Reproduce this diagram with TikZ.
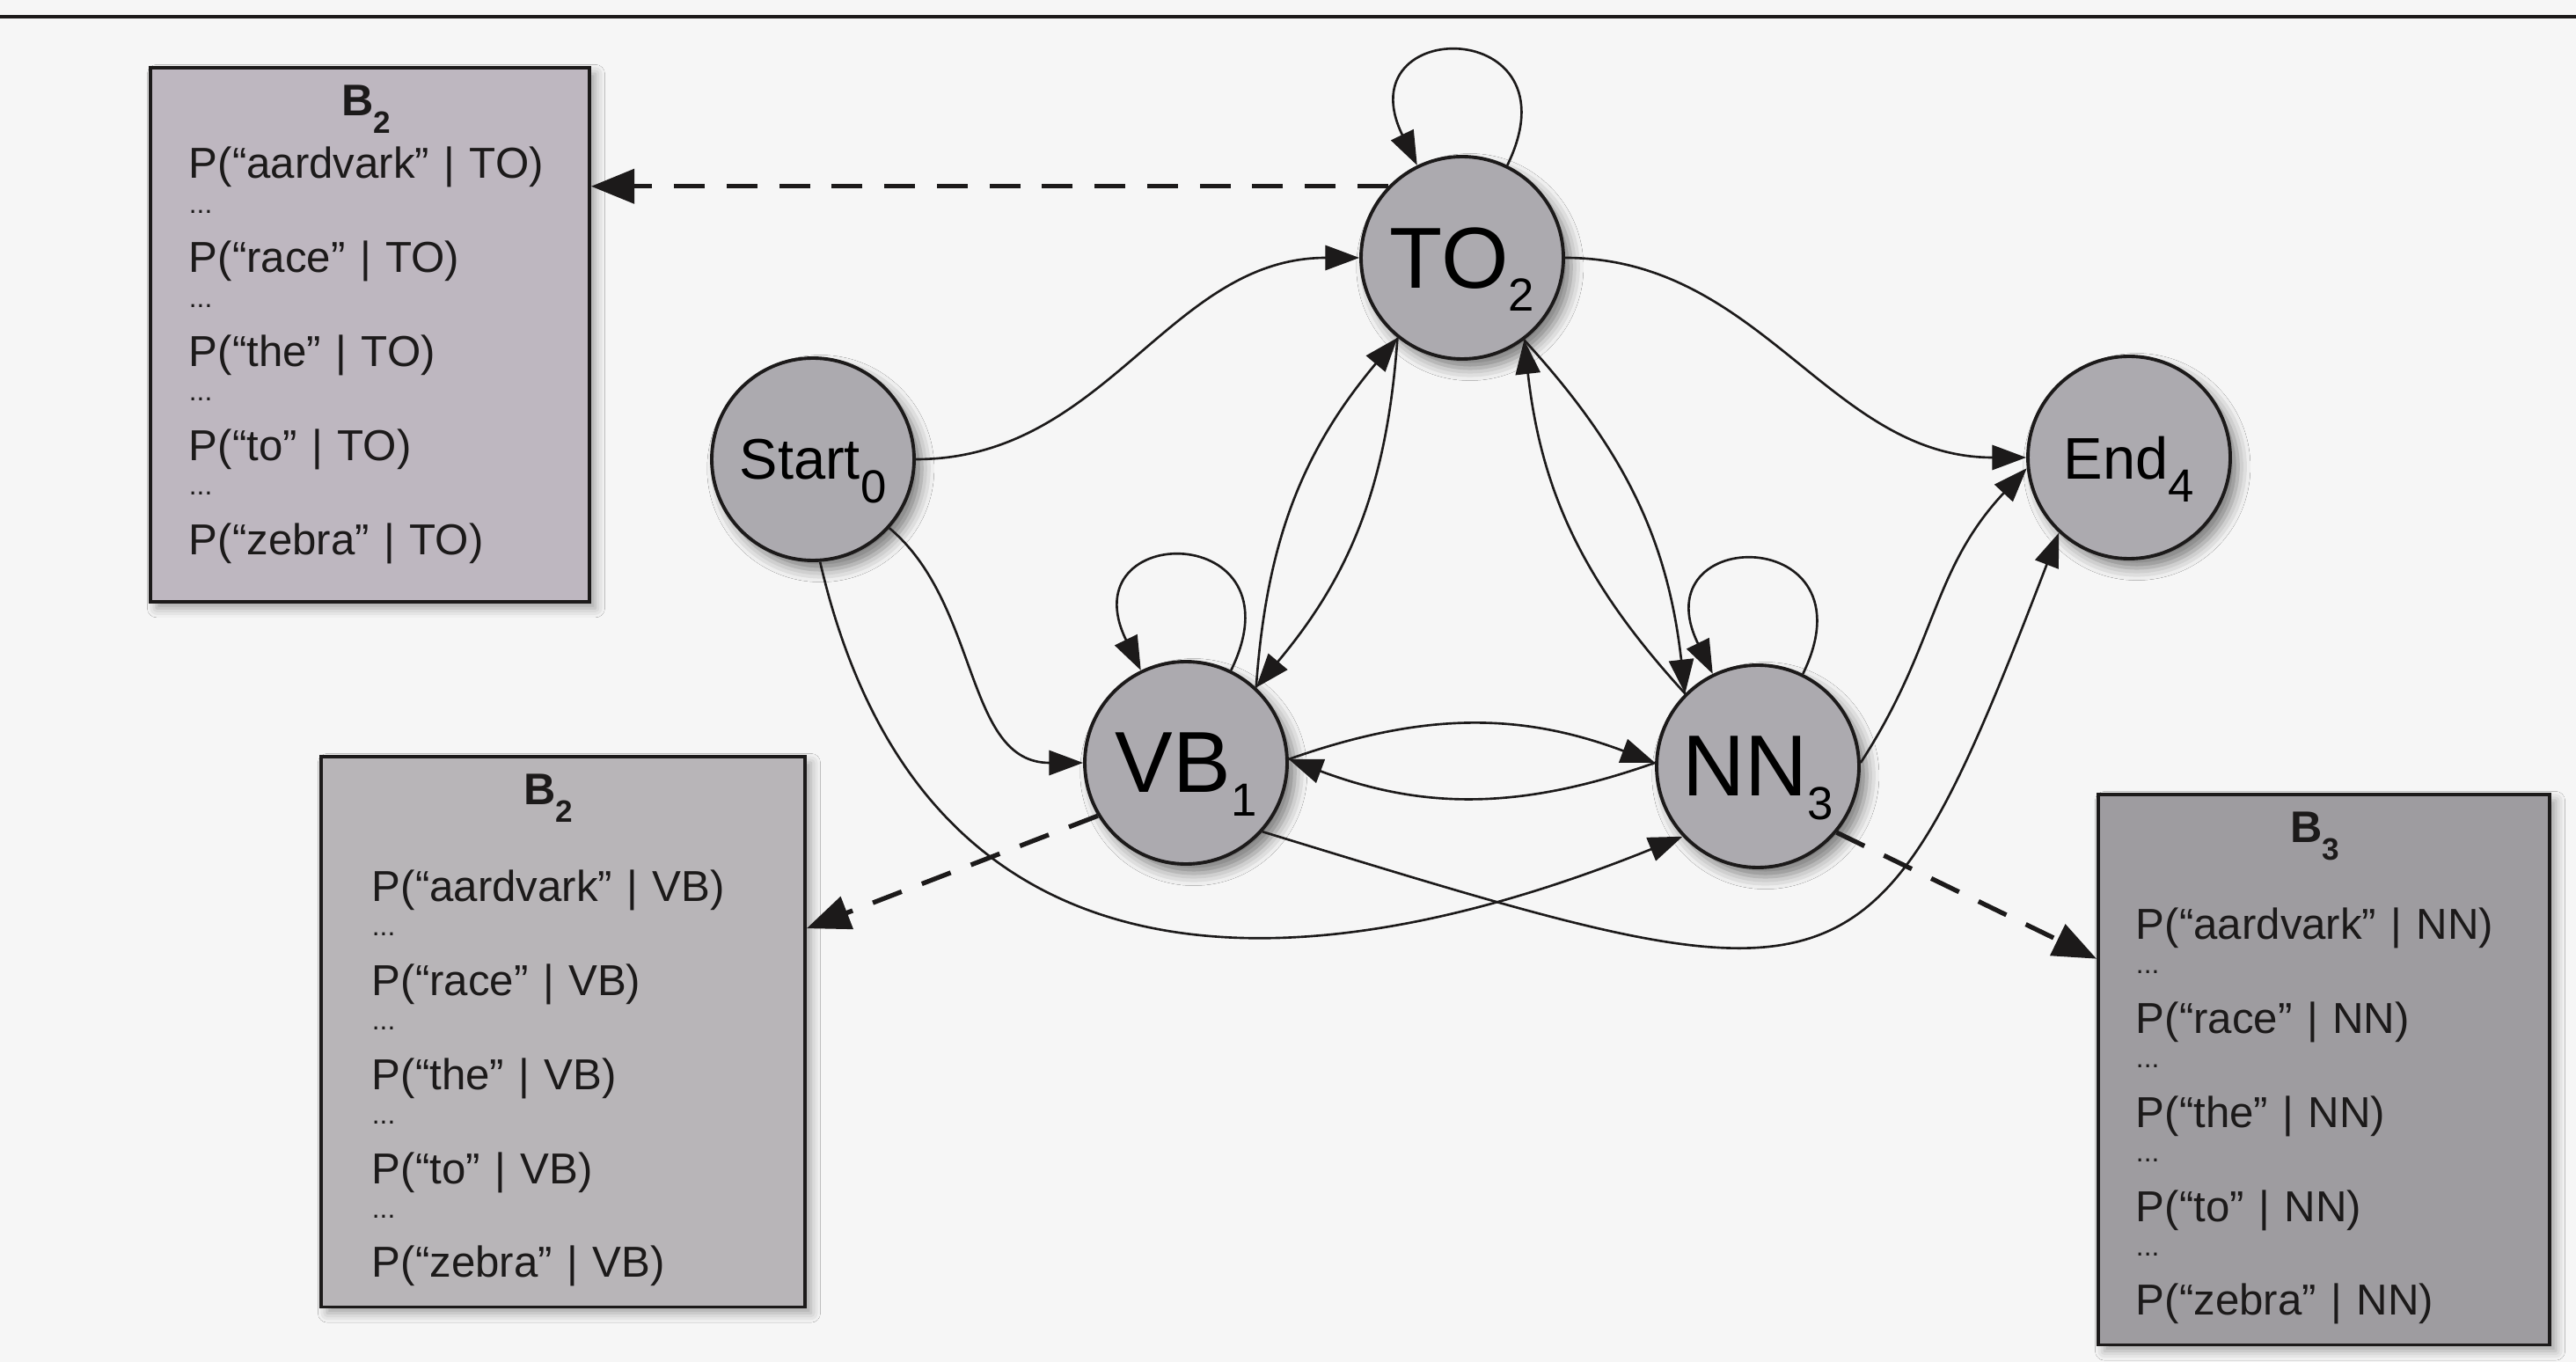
\documentclass[tikz,border=0pt]{standalone}
\usepackage{fontspec}
\setmainfont{Liberation Sans}
\usetikzlibrary{arrows.meta,shadows.blur}
\definecolor{stategray}{RGB}{172,170,175}
\definecolor{boxto}{RGB}{190,183,192}
\definecolor{boxvb}{RGB}{184,181,184}
\definecolor{boxnn}{RGB}{158,156,160}
\definecolor{paper}{RGB}{246,246,246}
\definecolor{ink}{RGB}{28,26,26}
\newcommand{\statelabel}[3]{{\fontsize{#1}{#1}\selectfont #2}\raisebox{-7.5pt}{\fontsize{15}{15}\selectfont #3}}
\newcommand{\emitlist}[4]{\begin{tabular}{@{}l@{}}
\multicolumn{1}{@{}c@{}}{\fontsize{14.3}{15.2}\selectfont\bfseries B\raisebox{-5.5pt}{\fontsize{10}{10}\selectfont #2}}\\[#3]
P(“aardvark” | #1)\\[-4pt] {\fontsize{9}{9}\selectfont ...}\\[4pt]
P(“race” | #1)\\[-4pt] {\fontsize{9}{9}\selectfont ...}\\[4pt]
P(“the” | #1)\\[-4pt] {\fontsize{9}{9}\selectfont ...}\\[4pt]
P(“to” | #1)\\[-4pt] {\fontsize{9}{9}\selectfont ...}\\[4pt]
P(“zebra” | #1)\\[#4]
\end{tabular}}
\begin{document}
\begin{tikzpicture}[
    state/.style={circle,draw=ink,line width=1.1pt,fill=stategray,minimum size=2.3cm,inner sep=0pt,text depth=0pt,
      blur shadow={shadow xshift=2.5pt,shadow yshift=-3pt,shadow blur radius=4pt,shadow opacity=50}},
    emit/.style={rectangle,draw=ink,line width=1.1pt,anchor=north west,inner ysep=5pt,align=left,
      font=\fontsize{14}{15.2}\selectfont,text=ink,
      blur shadow={shadow xshift=2pt,shadow yshift=-2pt,shadow blur radius=3pt,shadow opacity=35}},
    trans/.style={draw=ink,line width=0.75pt,-{Triangle[length=11pt,width=8pt]}},
    emitarrow/.style={draw=ink,line width=1.5pt,dash pattern=on 10pt off 7pt,-{Triangle[length=14pt,width=11pt]}}
  ]
  \fill[paper] (0,0) rectangle (29.28,-15.48);
  \useasboundingbox (0,0) rectangle (29.28,-15.48);
  \draw[ink,line width=1.2pt] (0,-0.19) -- (29.28,-0.19);

  \node[state] (start) at (9.24,-5.22) {\statelabel{18.5}{Start}{0}};
  \node[state] (to) at (16.62,-2.93) {\statelabel{28}{TO}{2}};
  \node[state] (vb) at (13.48,-8.67) {\statelabel{28}{VB}{1}};
  \node[state] (nn) at (19.98,-8.71) {\statelabel{28}{NN}{3}};
  \node[state] (stop) at (24.20,-5.20) {\statelabel{19}{End}{4}};

  \node[emit,fill=boxto,inner xsep=0.44cm,text width=4.11cm] (bto) at (1.69,-0.75) {\emitlist{TO}{2}{5pt}{5.8pt}};
  \node[emit,fill=boxvb,inner xsep=0.58cm,text width=4.34cm] (bvb) at (3.63,-8.58) {\emitlist{VB}{2}{16pt}{0pt}};
  \node[emit,fill=boxnn,inner xsep=0.43cm,text width=4.27cm] (bnn) at (23.83,-9.01) {\emitlist{NN}{3}{16pt}{0pt}};

  \draw[trans] (start.east) to[out=0,in=180] (to.west);
  \draw[trans] (to.east) to[out=0,in=180] (stop.west);
  \draw[trans] (start.-42) to[out=-40,in=180] (vb.west);
  \draw[trans] (start.274) .. controls +(-77:5.5) and +(202:4.2) .. (nn.223);
  \draw[trans] (vb.-42) .. controls +(-17:7) and +(249:6) .. (stop.227);
  \draw[trans] (nn.2) .. controls +(57:1.6) and +(227:1.6) .. (stop.186);
  \draw[trans] (vb.2) to[bend left=20] (nn.178);
  \draw[trans] (nn.178) to[bend left=20] (vb.2);
  \draw[trans] (vb.47) to[bend left=18] (to.231);
  \draw[trans] (to.231) to[bend left=18] (vb.47);
  \draw[trans] (to.307) to[bend left=18] (nn.135);
  \draw[trans] (nn.135) to[bend left=18] (to.307);
  \draw[trans] (to) to[out=64,in=116,distance=1.9cm] (to);
  \draw[trans] (vb) to[out=64,in=116,distance=1.9cm] (vb);
  \draw[trans] (nn) to[out=64,in=116,distance=1.9cm] (nn);

  \draw[emitarrow] (to.136) -- (to.136 -| bto.east);
  \draw[emitarrow] (vb.211) -- (bvb.23);
  \draw[emitarrow] (nn.-40) -- (bnn.154);
\end{tikzpicture}
\end{document}
